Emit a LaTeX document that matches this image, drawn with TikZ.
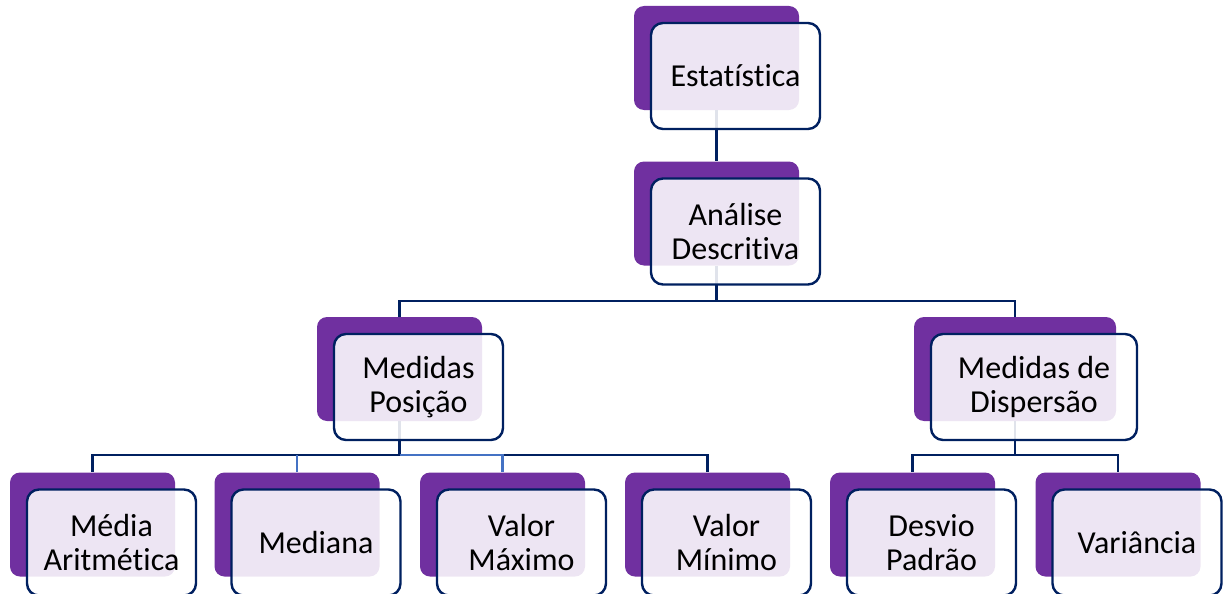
\documentclass[tikz,border=0pt]{standalone}
\usepackage{fontspec}
\setmainfont[Ligatures=NoCommon]{Carlito}
\usepackage{tikz}
\usetikzlibrary{positioning,calc}
\definecolor{cPurple}{RGB}{112,48,160}
\definecolor{cNavy}{RGB}{0,32,96}
\definecolor{cLight}{RGB}{68,114,196}
\tikzset{
  back/.style={fill=cPurple, rounded corners=10pt, minimum width=165pt,
               minimum height=104pt, inner sep=0pt},
  front/.style={draw=cNavy, line width=2.4pt, fill=white, fill opacity=0.88,
                text opacity=1, rounded corners=12pt, minimum width=169pt,
                minimum height=106pt, align=center, inner sep=2pt,
                font=\fontsize{32}{34}\selectfont},
  ln/.style={draw=cNavy, line width=2.2pt},
  lnl/.style={draw=cLight, line width=2.2pt},
}
\begin{document}
\begin{tikzpicture}[x=1pt, y=-1pt]
\useasboundingbox (0,0) rectangle (1223,594);
% back boxes
\node[back] (est) at (716.5,58) {};
\node[back] (ana) at (716.5,213.5) {};
\node[back] (pos) at (399.5,369) {};
\node[back, minimum width=202pt] (disp) at (1015,369) {};
\node[back] (ma) at (92.5,524.5) {};
\node[back] (med) at (297,524.5) {};
\node[back] (vmax) at (502.5,524.5) {};
\node[back] (vmin) at (707.5,524.5) {};
\node[back] (dp) at (912.5,524.5) {};
\node[back] (var) at (1118,524.5) {};

% connectors
\coordinate (hubA) at ($(ana.south)+(0,35)$);
\coordinate (hubP) at ($(pos.south)+(0,34)$);
\coordinate (hubD) at ($(disp.south)+(0,34)$);
\draw[ln] (est.south) -- (ana.north);
\draw[ln] (ana.south) -- (hubA) -| (pos.north);
\draw[ln] (hubA) -| (disp.north);
\draw[ln] (pos.south) -- (hubP) -| (ma.north);
\draw[ln] (hubP) -| (vmin.north);
\draw[lnl] (hubP) -| (vmax.north);
\draw[lnl] (hubP -| med.north) -- (med.north);
\draw[ln] (disp.south) -- (hubD) -| (dp.north);
\draw[ln] (hubD) -| (var.north);

% front boxes
\node[front] (estF) at ($(est)+(19,18)$) {Estatística};
\node[front] (anaF) at ($(ana)+(19,18)$) {Análise\\Descritiva};
\node[front] (posF) at ($(pos)+(19,18)$) {Medidas\\Posição};
\node[front, minimum width=206pt] (dispF) at ($(disp)+(19,18)$) {Medidas de\\Dispersão};
\node[front] (maF) at ($(ma)+(19,18)$) {Média\\Aritmética};
\node[front] (medF) at ($(med)+(19,18)$) {Mediana};
\node[front] (vmaxF) at ($(vmax)+(19,18)$) {Valor\\Máximo};
\node[front] (vminF) at ($(vmin)+(19,18)$) {Valor\\Mínimo};
\node[front] (dpF) at ($(dp)+(19,18)$) {Desvio\\Padrão};
\node[front] (varF) at ($(var)+(19,18)$) {Variância};
\end{tikzpicture}
\end{document}
